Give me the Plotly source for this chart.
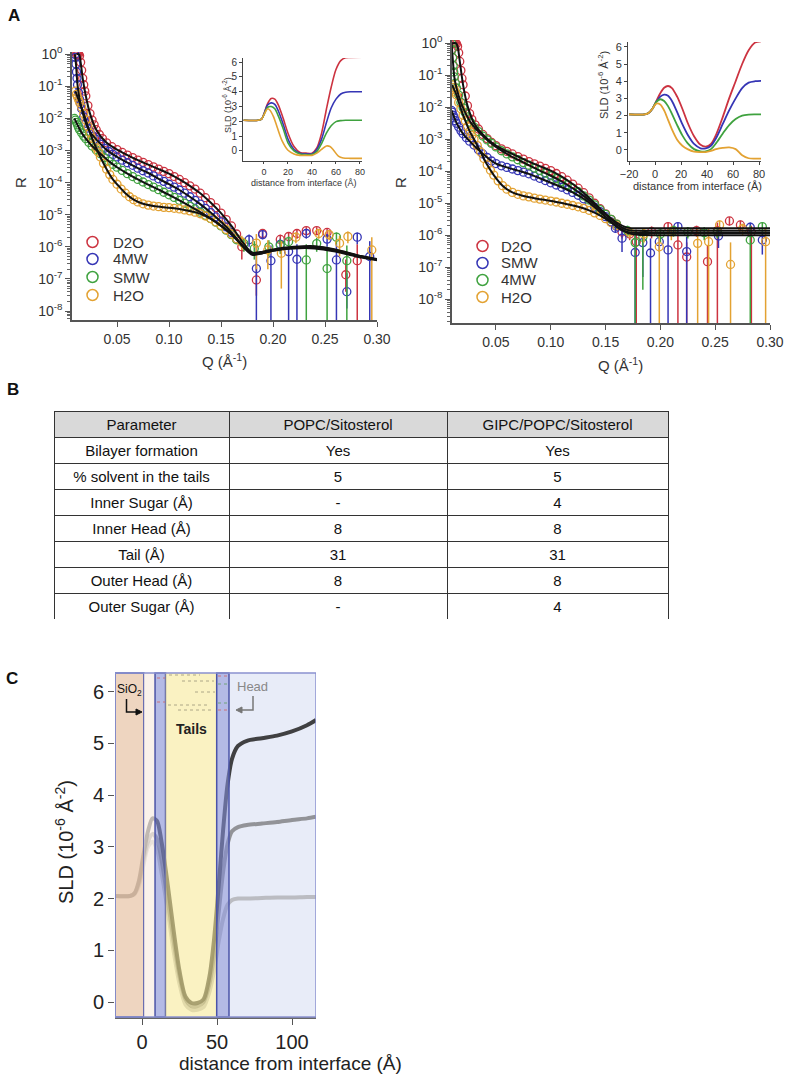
import plotly.graph_objects as go

W, H = 788, 1079
def px(x): return x / W
def py(y): return 1 - y / H

FONT = "Liberation Sans, Arial, sans-serif"

# ---------------- Panel A (left): POPC/Sitosterol, log10(R) ----------------
L_names = ["D2O", "4MW", "SMW", "H2O"]
L_colors = ["#cc3340", "#3535b5", "#3fa23f", "#e3a232"]

L_q_d2o = [0.011,0.012,0.013,0.014,0.015,0.016,0.017,0.018,0.019,0.020,0.022,0.024,0.026,0.028,0.030,0.033,0.036,0.040,0.045,0.050,0.055,0.060,0.065,0.070,0.075,0.080,0.085,0.090,0.095,0.100,0.105,0.110,0.115,0.120,0.125,0.130,0.135,0.140,0.145,0.150,0.155,0.160,0.165]
L_lr_d2o = [0.0,0.0,0.0,-0.05,-0.25,-0.5,-0.75,-0.95,-1.15,-1.3,-1.6,-1.85,-2.05,-2.2,-2.35,-2.5,-2.63,-2.76,-2.88,-2.97,-3.06,-3.14,-3.22,-3.3,-3.37,-3.44,-3.51,-3.58,-3.65,-3.72,-3.81,-3.9,-4.0,-4.1,-4.2,-4.33,-4.47,-4.62,-4.78,-4.95,-5.15,-5.35,-5.6]
L_q_4mw = [0.0095,0.010,0.0105,0.011,0.0115,0.012,0.013,0.014,0.015,0.016,0.018,0.020,0.022,0.024,0.027,0.030,0.034,0.038,0.042,0.046,0.050,0.055,0.060,0.065,0.070,0.075,0.080,0.085,0.090,0.095,0.100,0.105,0.110,0.115,0.120,0.125,0.130,0.135,0.140,0.145,0.150,0.155,0.160,0.165]
L_lr_4mw = [0.0,-0.1,-0.3,-0.55,-0.75,-0.95,-1.2,-1.4,-1.55,-1.7,-1.95,-2.15,-2.3,-2.42,-2.55,-2.65,-2.8,-2.93,-3.03,-3.12,-3.2,-3.3,-3.38,-3.46,-3.55,-3.63,-3.7,-3.79,-3.88,-3.96,-4.05,-4.14,-4.23,-4.33,-4.44,-4.55,-4.67,-4.8,-4.93,-5.07,-5.22,-5.38,-5.55,-5.75]
L_q_smw = [0.009,0.010,0.011,0.012,0.013,0.014,0.016,0.018,0.020,0.023,0.026,0.030,0.034,0.038,0.042,0.046,0.050,0.055,0.060,0.065,0.070,0.075,0.080,0.085,0.090,0.095,0.100,0.105,0.110,0.115,0.120,0.125,0.130,0.135,0.140,0.145,0.150,0.155,0.160,0.165]
L_lr_smw = [-2.0,-2.05,-2.12,-2.2,-2.28,-2.35,-2.45,-2.55,-2.63,-2.75,-2.86,-2.98,-3.1,-3.22,-3.33,-3.43,-3.52,-3.62,-3.72,-3.81,-3.9,-3.98,-4.06,-4.14,-4.22,-4.3,-4.38,-4.46,-4.55,-4.64,-4.73,-4.82,-4.92,-5.02,-5.12,-5.23,-5.35,-5.48,-5.62,-5.78]
L_q_h2o = [0.010,0.011,0.012,0.013,0.014,0.016,0.018,0.020,0.022,0.024,0.026,0.028,0.030,0.032,0.034,0.037,0.040,0.043,0.046,0.050,0.054,0.058,0.062,0.066,0.070,0.075,0.080,0.085,0.090,0.095,0.100,0.105,0.110,0.115,0.120,0.125,0.130,0.135,0.140,0.145,0.150,0.155,0.160,0.165]
L_lr_h2o = [-1.15,-1.25,-1.33,-1.42,-1.5,-1.65,-1.85,-2.05,-2.25,-2.45,-2.62,-2.78,-2.92,-3.05,-3.2,-3.4,-3.58,-3.75,-3.9,-4.05,-4.2,-4.33,-4.44,-4.53,-4.6,-4.66,-4.7,-4.73,-4.75,-4.77,-4.78,-4.8,-4.82,-4.85,-4.88,-4.92,-4.97,-5.04,-5.12,-5.22,-5.33,-5.46,-5.6,-5.75]

# sparse high-Q points (R values) with lower/upper error bounds
L_sq_d2o = [0.170,0.184,0.190,0.207,0.215,0.223,0.232,0.242,0.252,0.270,0.281]
L_sr_d2o = [1.0e-6,9.3e-8,2.6e-6,1.7e-6,2.1e-6,2.6e-6,3.2e-6,3.2e-6,2.8e-6,1.35e-7,3.7e-7]
L_lo_d2o = [4e-7,3e-8,1.8e-6,1.1e-6,1.4e-6,1.8e-6,2.3e-6,2.3e-6,1.9e-6,4e-8,1e-9]
L_hi_d2o = [2e-6,3e-7,3.5e-6,2.4e-6,2.9e-6,3.4e-6,4.1e-6,4.1e-6,3.7e-6,4e-7,1.2e-6]
L_sq_4mw = [0.177,0.184,0.190,0.198,0.207,0.215,0.223,0.232,0.252,0.261,0.271,0.281,0.293]
L_sr_4mw = [1.66e-6,2.1e-7,2.4e-6,3.7e-7,1.2e-6,7.1e-7,4.1e-7,2.6e-6,1.74e-6,3.9e-7,4e-8,2.0e-6,5.0e-7]
L_lo_4mw = [1e-6,1e-9,1.7e-6,1e-9,7e-7,1e-9,1e-9,1.8e-6,1e-6,1e-9,1.2e-8,1.2e-6,1e-9]
L_hi_4mw = [2.4e-6,1.2e-6,3.2e-6,1.1e-6,1.8e-6,1.6e-6,1.2e-6,3.4e-6,2.5e-6,1.2e-6,1.5e-7,2.8e-6,1.5e-6]
L_sq_smw = [0.172,0.182,0.196,0.207,0.215,0.232,0.242,0.252,0.261,0.271]
L_sr_smw = [1.26e-6,8.9e-7,1.0e-6,1.12e-6,1.45e-6,3.9e-7,1.26e-6,2.1e-7,2.0e-6,3.7e-7]
L_lo_smw = [7e-7,4e-7,5e-7,6e-7,9e-7,1e-9,7e-7,1e-9,1.2e-6,1e-9]
L_hi_smw = [1.9e-6,1.5e-6,1.6e-6,1.7e-6,2.1e-6,1.2e-6,1.9e-6,1e-6,2.8e-6,1.1e-6]
L_sq_h2o = [0.170,0.184,0.195,0.208,0.222,0.244,0.254,0.264,0.272,0.295]
L_sr_h2o = [1.4e-6,1.3e-6,8e-7,6.3e-7,2.0e-6,2.6e-6,2.4e-6,1.3e-6,2.1e-6,8e-7]
L_lo_h2o = [8e-7,2e-7,2e-7,5e-8,1.3e-6,1.8e-6,1.6e-6,5e-7,1.3e-6,1e-9]
L_hi_h2o = [2.2e-6,2.5e-6,1.6e-6,1.5e-6,2.8e-6,3.4e-6,3.2e-6,2.2e-6,3e-6,2e-6]

# fits, log10(R)
L_fq_d2o = [0.011,0.0135,0.015,0.017,0.020,0.024,0.030,0.040,0.050,0.060,0.070,0.080,0.090,0.100,0.110,0.120,0.130,0.140,0.150,0.160,0.170,0.180,0.190,0.200,0.220,0.240,0.260,0.280,0.300]
L_fl_d2o = [0,0,-0.25,-0.75,-1.3,-1.85,-2.35,-2.76,-2.97,-3.14,-3.3,-3.44,-3.58,-3.72,-3.9,-4.1,-4.33,-4.62,-4.95,-5.35,-5.82,-6.18,-6.15,-6.08,-6.0,-5.98,-6.08,-6.25,-6.4]
L_fq_4mw = [0.0095,0.0105,0.012,0.014,0.016,0.020,0.024,0.030,0.040,0.050,0.060,0.070,0.080,0.090,0.100,0.110,0.120,0.130,0.140,0.150,0.160,0.170,0.180,0.190,0.200,0.220,0.240,0.260,0.280,0.300]
L_fl_4mw = [0,-0.3,-0.95,-1.4,-1.7,-2.15,-2.42,-2.65,-2.98,-3.2,-3.38,-3.55,-3.7,-3.88,-4.05,-4.23,-4.44,-4.67,-4.93,-5.22,-5.55,-5.95,-6.25,-6.2,-6.12,-6.05,-6.05,-6.15,-6.3,-6.42]
L_fq_smw = [0.009,0.012,0.016,0.020,0.026,0.034,0.042,0.050,0.060,0.070,0.080,0.090,0.100,0.110,0.120,0.130,0.140,0.150,0.160,0.170,0.180,0.190,0.200,0.220,0.240,0.260,0.280,0.300]
L_fl_smw = [-2.0,-2.2,-2.45,-2.63,-2.86,-3.1,-3.33,-3.52,-3.72,-3.9,-4.06,-4.22,-4.38,-4.55,-4.73,-4.92,-5.12,-5.35,-5.62,-5.95,-6.22,-6.18,-6.1,-6.03,-6.03,-6.12,-6.28,-6.4]
L_fq_h2o = [0.010,0.012,0.014,0.018,0.022,0.026,0.030,0.034,0.040,0.046,0.050,0.058,0.066,0.075,0.085,0.095,0.105,0.115,0.125,0.135,0.145,0.155,0.165,0.175,0.185,0.200,0.220,0.240,0.260,0.280,0.300]
L_fl_h2o = [-1.15,-1.33,-1.5,-1.85,-2.25,-2.62,-2.92,-3.2,-3.58,-3.9,-4.05,-4.33,-4.53,-4.66,-4.73,-4.77,-4.8,-4.85,-4.92,-5.04,-5.22,-5.46,-5.75,-6.1,-6.22,-6.12,-6.02,-6.0,-6.1,-6.26,-6.38]

# ---------------- Panel A (right): GIPC/POPC/Sitosterol ----------------
R_names = ["D2O", "SMW", "4MW", "H2O"]
R_colors = ["#cc3340", "#3535b5", "#3fa23f", "#e3a232"]

R_q_d2o = [0.010,0.011,0.012,0.013,0.014,0.015,0.016,0.017,0.018,0.019,0.020,0.022,0.024,0.026,0.028,0.031,0.034,0.038,0.042,0.046,0.050,0.055,0.060,0.065,0.070,0.075,0.080,0.085,0.090,0.095,0.100,0.105,0.110,0.115,0.120,0.125,0.130,0.135,0.140,0.145,0.150,0.155,0.160]
R_lr_d2o = [0.0,0.0,0.0,0.0,-0.02,-0.1,-0.3,-0.57,-0.85,-1.1,-1.3,-1.65,-1.95,-2.2,-2.38,-2.55,-2.68,-2.85,-2.98,-3.1,-3.2,-3.3,-3.38,-3.46,-3.54,-3.62,-3.7,-3.77,-3.84,-3.91,-3.98,-4.07,-4.17,-4.28,-4.4,-4.53,-4.67,-4.83,-5.0,-5.17,-5.33,-5.5,-5.65]
R_q_smw = [0.0095,0.010,0.011,0.012,0.013,0.014,0.016,0.018,0.020,0.023,0.026,0.030,0.034,0.038,0.042,0.046,0.050,0.055,0.060,0.065,0.070,0.075,0.080,0.085,0.090,0.095,0.100,0.105,0.110,0.115,0.120,0.125,0.130,0.135,0.140,0.145,0.150,0.155,0.160]
R_lr_smw = [-2.1,-2.15,-2.25,-2.33,-2.42,-2.5,-2.62,-2.73,-2.83,-2.95,-3.06,-3.18,-3.33,-3.46,-3.57,-3.68,-3.76,-3.83,-3.88,-3.93,-3.98,-4.03,-4.08,-4.15,-4.22,-4.29,-4.36,-4.43,-4.5,-4.58,-4.66,-4.75,-4.86,-4.98,-5.12,-5.26,-5.42,-5.58,-5.72]
R_q_4mw = [0.0095,0.010,0.0105,0.011,0.0115,0.012,0.013,0.014,0.016,0.018,0.020,0.022,0.024,0.027,0.030,0.034,0.038,0.042,0.046,0.050,0.055,0.060,0.065,0.070,0.075,0.080,0.085,0.090,0.095,0.100,0.105,0.110,0.115,0.120,0.125,0.130,0.135,0.140,0.145,0.150,0.155,0.160]
R_lr_4mw = [0.0,-0.2,-0.45,-0.7,-0.9,-1.05,-1.25,-1.4,-1.62,-1.85,-2.02,-2.17,-2.3,-2.48,-2.62,-2.76,-2.9,-3.02,-3.13,-3.24,-3.36,-3.46,-3.55,-3.64,-3.73,-3.81,-3.9,-3.98,-4.06,-4.14,-4.23,-4.32,-4.42,-4.53,-4.64,-4.77,-4.9,-5.05,-5.2,-5.35,-5.5,-5.65]
R_q_h2o = [0.010,0.011,0.012,0.013,0.014,0.016,0.018,0.020,0.022,0.024,0.026,0.028,0.030,0.033,0.036,0.039,0.042,0.045,0.048,0.052,0.056,0.060,0.065,0.070,0.075,0.080,0.085,0.090,0.095,0.100,0.105,0.110,0.115,0.120,0.125,0.130,0.135,0.140,0.145,0.150,0.155,0.160]
R_lr_h2o = [-1.3,-1.38,-1.45,-1.53,-1.62,-1.85,-2.05,-2.25,-2.42,-2.6,-2.75,-2.88,-3.0,-3.2,-3.4,-3.6,-3.8,-3.97,-4.12,-4.3,-4.45,-4.56,-4.66,-4.72,-4.77,-4.8,-4.84,-4.87,-4.9,-4.93,-4.96,-5.0,-5.03,-5.07,-5.11,-5.16,-5.22,-5.3,-5.38,-5.48,-5.6,-5.7]

R_sq_d2o = [0.165,0.172,0.178,0.192,0.207,0.216,0.224,0.233,0.243,0.252,0.263,0.273,0.283]
R_sr_d2o = [1.26e-6,1.1e-6,6.3e-7,1.3e-6,1.86e-6,5e-7,2.1e-7,1.4e-6,1.5e-7,1.4e-6,2.8e-6,2.1e-6,1.26e-6]
R_lo_d2o = [8e-7,7e-7,1e-9,8e-7,1.3e-6,1e-9,1e-9,9e-7,1e-9,1e-9,2e-6,1.4e-6,1e-9]
R_hi_d2o = [1.8e-6,1.6e-6,1.5e-6,1.9e-6,2.5e-6,1.3e-6,6e-7,2e-6,5e-7,2.5e-6,3.7e-6,2.9e-6,2e-6]
R_sq_smw = [0.159,0.165,0.177,0.184,0.191,0.199,0.207,0.216,0.224,0.253,0.282,0.293]
R_sr_smw = [1.66e-6,8.1e-7,2.9e-7,5.9e-7,2.8e-7,6.3e-7,3.5e-7,1.86e-6,3.1e-7,9.5e-7,1.78e-6,7.1e-7]
R_lo_smw = [1.2e-6,3e-7,1e-9,5e-8,1e-9,3e-7,1e-9,1.3e-6,1e-9,4e-7,1.2e-6,2.5e-7]
R_hi_smw = [2.2e-6,1.5e-6,1e-6,1.3e-6,8e-7,1.1e-6,1e-6,2.5e-6,9e-7,1.6e-6,2.5e-6,1.3e-6]
R_sq_4mw = [0.170,0.177,0.184,0.200,0.212,0.225,0.240,0.252,0.282,0.293]
R_sr_4mw = [1.4e-6,5.9e-7,8.7e-7,1.1e-6,1.4e-6,1.26e-6,1.2e-6,1.26e-6,7.1e-7,1.86e-6]
R_lo_4mw = [9e-7,1e-9,2e-8,6e-7,9e-7,8e-7,7e-7,8e-7,1e-9,1.3e-6]
R_hi_4mw = [2e-6,1.5e-6,1.6e-6,1.7e-6,2e-6,1.8e-6,1.8e-6,1.8e-6,2e-6,2.5e-6]
R_sq_h2o = [0.172,0.185,0.199,0.210,0.234,0.244,0.254,0.264,0.275,0.296]
R_sr_h2o = [1.26e-6,1.1e-6,4.4e-7,1.26e-6,5.6e-7,6.3e-7,2.1e-6,1.23e-7,1.6e-6,6.3e-7]
R_lo_h2o = [8e-7,6e-7,1e-9,7e-7,1e-9,1e-9,1.4e-6,1e-9,1e-6,1e-9]
R_hi_h2o = [1.8e-6,1.7e-6,1.3e-6,1.9e-6,1.6e-6,1.6e-6,2.9e-6,6e-7,2.3e-6,1.6e-6]

R_fq_d2o = [0.010,0.0135,0.015,0.017,0.020,0.024,0.030,0.040,0.050,0.060,0.070,0.080,0.090,0.100,0.110,0.120,0.130,0.140,0.150,0.160,0.170,0.180,0.200,0.250,0.300]
R_fl_d2o = [0,0,-0.1,-0.57,-1.3,-1.95,-2.5,-2.92,-3.2,-3.38,-3.54,-3.7,-3.84,-3.98,-4.17,-4.4,-4.67,-5.0,-5.33,-5.6,-5.76,-5.78,-5.78,-5.78,-5.78]
R_fq_smw = [0.0095,0.012,0.016,0.020,0.026,0.034,0.042,0.050,0.060,0.070,0.080,0.090,0.100,0.110,0.120,0.130,0.140,0.150,0.160,0.170,0.180,0.200,0.250,0.300]
R_fl_smw = [-2.1,-2.33,-2.62,-2.83,-3.06,-3.33,-3.57,-3.76,-3.88,-3.98,-4.08,-4.22,-4.36,-4.5,-4.66,-4.86,-5.12,-5.42,-5.72,-5.9,-5.93,-5.93,-5.93,-5.93]
R_fq_4mw = [0.0095,0.0105,0.012,0.014,0.018,0.022,0.027,0.034,0.042,0.050,0.060,0.070,0.080,0.090,0.100,0.110,0.120,0.130,0.140,0.150,0.160,0.170,0.180,0.200,0.250,0.300]
R_fl_4mw = [0,-0.45,-1.05,-1.4,-1.85,-2.17,-2.48,-2.76,-3.02,-3.24,-3.46,-3.64,-3.81,-3.98,-4.14,-4.32,-4.53,-4.77,-5.05,-5.35,-5.65,-5.83,-5.86,-5.86,-5.86,-5.86]
R_fq_h2o = [0.010,0.014,0.018,0.022,0.026,0.030,0.036,0.042,0.048,0.056,0.065,0.075,0.085,0.095,0.105,0.115,0.125,0.135,0.145,0.155,0.165,0.175,0.200,0.250,0.300]
R_fl_h2o = [-1.3,-1.62,-2.05,-2.42,-2.75,-3.0,-3.4,-3.8,-4.12,-4.45,-4.66,-4.77,-4.84,-4.9,-4.96,-5.03,-5.11,-5.22,-5.38,-5.6,-5.85,-5.97,-6.0,-6.0,-6.0]

# ---------------- Insets: SLD profiles ----------------
IL_d = [-17,-5,-2,0,3,6,9,12,16,20,25,30,35,40,44,48,52,56,60,64,68,72,82]
IL_d2o = [2.07,2.07,2.15,2.5,3.2,3.55,3.5,3.1,2.2,1.2,0.3,-0.1,-0.15,-0.15,0.2,1.2,2.8,4.3,5.5,6.1,6.3,6.32,6.33]
IL_4mw = [2.07,2.07,2.15,2.5,3.1,3.25,3.15,2.7,1.8,0.8,0.1,-0.15,-0.2,-0.2,0.1,0.8,1.9,2.9,3.5,3.85,3.97,4.0,4.0]
IL_smw = [2.07,2.07,2.15,2.45,2.95,3.0,2.85,2.35,1.5,0.55,0.0,-0.2,-0.25,-0.25,-0.05,0.5,1.2,1.7,1.98,2.05,2.07,2.07,2.07]
IL_h2o_d = [-17,-5,-2,0,3,5,8,11,15,20,25,30,35,40,44,48,52,55,58,62,66,72,82]
IL_h2o = [2.07,2.07,2.15,2.45,2.85,2.75,2.3,1.6,0.7,0.05,-0.2,-0.3,-0.3,-0.3,-0.15,0.1,0.33,0.3,0.05,-0.35,-0.48,-0.5,-0.5]

IR_d = [-20,-8,-5,-2,1,4,7,10,13,17,21,25,30,35,39,43,47,52,57,62,67,72,77,82]
IR_d2o = [2.07,2.07,2.15,2.4,2.85,3.3,3.62,3.72,3.6,3.1,2.4,1.6,0.8,0.3,0.2,0.35,0.9,1.9,3.0,4.0,5.0,5.8,6.25,6.32]
IR_smw = [2.07,2.07,2.15,2.4,2.8,3.1,3.22,3.15,2.85,2.2,1.5,0.9,0.35,0.1,0.1,0.25,0.7,1.5,2.3,3.0,3.6,3.92,4.0,4.02]
IR_4mw = [2.07,2.07,2.15,2.4,2.8,2.95,2.85,2.55,2.1,1.45,0.85,0.4,0.05,-0.08,-0.08,0.05,0.4,0.95,1.45,1.8,2.0,2.06,2.07,2.07]
IR_h2o = [2.07,2.07,2.15,2.4,2.7,2.65,2.3,1.75,1.2,0.6,0.25,0.05,-0.1,-0.12,-0.12,-0.05,0.05,0.12,0.15,0.05,-0.3,-0.48,-0.5,-0.5]

# ---------------- Panel B: table ----------------
tbl_header = ["Parameter", "POPC/Sitosterol", "GIPC/POPC/Sitosterol"]
tbl_param = ["Bilayer formation", "% solvent in the tails", "Inner Sugar (Å)", "Inner Head (Å)",
             "Tail (Å)", "Outer Head (Å)", "Outer Sugar (Å)"]
tbl_popc = ["Yes", "5", "-", "8", "31", "8", "-"]
tbl_gipc = ["Yes", "5", "4", "8", "31", "8", "4"]

# ---------------- Panel C: SLD profiles ----------------
C_d = [-18,-8,-5,-2,1,4,7,10,13,17,21,25,29,33,37,41,45,48,51,54,57,60,64,70,80,90,100,110,116]
C_dark = [2.05,2.05,2.1,2.35,2.85,3.3,3.55,3.5,3.1,2.3,1.4,0.6,0.1,-0.02,-0.02,0.05,0.5,1.2,2.2,3.3,4.2,4.7,4.95,5.05,5.1,5.15,5.23,5.35,5.45]
C_mid = [2.05,2.05,2.1,2.3,2.75,3.1,3.25,3.15,2.75,2.0,1.2,0.5,0.05,-0.08,-0.08,0.0,0.35,0.9,1.7,2.5,3.05,3.3,3.38,3.42,3.45,3.48,3.52,3.55,3.58]
C_light = [2.05,2.05,2.08,2.25,2.65,3.0,3.1,2.95,2.5,1.8,1.0,0.35,-0.05,-0.15,-0.15,-0.1,0.2,0.6,1.15,1.6,1.88,1.97,2.0,2.0,2.01,2.02,2.02,2.03,2.03]
C_region_x0 = [-18, 1.2, 8.7, 15.7, 49.8, 58.0]
C_region_x1 = [1.2, 8.7, 15.7, 49.8, 58.0, 116]
C_region_fill = ["rgba(234,204,178,0.82)", "rgba(248,236,226,0.7)", "rgba(130,140,212,0.6)",
                 "rgba(246,232,150,0.58)", "rgba(130,140,212,0.6)", "#e8ecf8"]
C_region_line = ["#4b54a8", "rgba(0,0,0,0)", "#4b54a8", "rgba(0,0,0,0)", "#4b54a8", "rgba(0,0,0,0)"]
C_region_layer = ["above", "above", "above", "above", "above", "below"]

fig = go.Figure()

def pw(vals):
    return [10 ** v for v in vals]

def add_refl(xa, ya, names, colors, dense, sparse, fits):
    for i, name in enumerate(names):
        q, lr = dense[i]
        fig.add_trace(go.Scatter(x=q, y=pw(lr), mode="markers", name=name, showlegend=False,
                                 xaxis=xa, yaxis=ya,
                                 marker=dict(symbol="circle-open", size=8, color=colors[i], line=dict(width=1.3))))
    for i, name in enumerate(names):
        sq, sr, lo, hi = sparse[i]
        fig.add_trace(go.Scatter(x=sq, y=sr, mode="markers", name=name, showlegend=False, xaxis=xa, yaxis=ya,
                                 marker=dict(symbol="circle-open", size=8, color=colors[i], line=dict(width=1.3)),
                                 error_y=dict(type="data", symmetric=False,
                                              array=[h - r for h, r in zip(hi, sr)],
                                              arrayminus=[r - l for r, l in zip(sr, lo)],
                                              color=colors[i], thickness=1.5, width=0)))
    for i in range(len(names)):
        fq, fl = fits[i]
        fig.add_trace(go.Scatter(x=fq, y=pw(fl), mode="lines", showlegend=False, xaxis=xa, yaxis=ya,
                                 line=dict(color="#111111", width=2, shape="spline", smoothing=0.8)))

add_refl("x", "y", L_names, L_colors,
         [(L_q_d2o, L_lr_d2o), (L_q_4mw, L_lr_4mw), (L_q_smw, L_lr_smw), (L_q_h2o, L_lr_h2o)],
         [(L_sq_d2o, L_sr_d2o, L_lo_d2o, L_hi_d2o), (L_sq_4mw, L_sr_4mw, L_lo_4mw, L_hi_4mw),
          (L_sq_smw, L_sr_smw, L_lo_smw, L_hi_smw), (L_sq_h2o, L_sr_h2o, L_lo_h2o, L_hi_h2o)],
         [(L_fq_d2o, L_fl_d2o), (L_fq_4mw, L_fl_4mw), (L_fq_smw, L_fl_smw), (L_fq_h2o, L_fl_h2o)])
add_refl("x2", "y2", R_names, R_colors,
         [(R_q_d2o, R_lr_d2o), (R_q_smw, R_lr_smw), (R_q_4mw, R_lr_4mw), (R_q_h2o, R_lr_h2o)],
         [(R_sq_d2o, R_sr_d2o, R_lo_d2o, R_hi_d2o), (R_sq_smw, R_sr_smw, R_lo_smw, R_hi_smw),
          (R_sq_4mw, R_sr_4mw, R_lo_4mw, R_hi_4mw), (R_sq_h2o, R_sr_h2o, R_lo_h2o, R_hi_h2o)],
         [(R_fq_d2o, R_fl_d2o), (R_fq_smw, R_fl_smw), (R_fq_4mw, R_fl_4mw), (R_fq_h2o, R_fl_h2o)])

# insets
for d, s, c in [(IL_d, IL_d2o, L_colors[0]), (IL_d, IL_4mw, L_colors[1]), (IL_d, IL_smw, L_colors[2]), (IL_h2o_d, IL_h2o, L_colors[3])]:
    fig.add_trace(go.Scatter(x=d, y=s, mode="lines", showlegend=False, xaxis="x3", yaxis="y3",
                             line=dict(color=c, width=1.6, shape="spline", smoothing=0.8)))
for s, c in [(IR_d2o, R_colors[0]), (IR_smw, R_colors[1]), (IR_4mw, R_colors[2]), (IR_h2o, R_colors[3])]:
    fig.add_trace(go.Scatter(x=IR_d, y=s, mode="lines", showlegend=False, xaxis="x4", yaxis="y4",
                             line=dict(color=c, width=1.8, shape="spline", smoothing=0.8)))

# panel C curves
for s, c in [(C_light, "rgba(150,150,150,0.55)"), (C_mid, "rgba(100,100,100,0.65)"), (C_dark, "rgba(40,40,40,0.88)")]:
    fig.add_trace(go.Scatter(x=C_d, y=s, mode="lines", showlegend=False, xaxis="x5", yaxis="y5",
                             line=dict(color=c, width=4, shape="spline", smoothing=0.8)))

# table
fig.add_trace(go.Table(
    domain=dict(x=[px(54), px(668)], y=[py(619), py(411)]),
    columnwidth=[175, 218, 221],
    header=dict(values=tbl_header, fill_color="#d9d9d9", line=dict(color="#333333", width=1),
                align="center", height=26, font=dict(family=FONT, size=15, color="#111")),
    cells=dict(values=[tbl_param, tbl_popc, tbl_gipc], fill_color="white", line=dict(color="#333333", width=1),
               align="center", height=26, font=dict(family=FONT, size=15, color="#111")),
))

tickfont = dict(family=FONT, size=14, color="#333")
ytv = [10.0 ** (-k) for k in range(0, 9)]
ytt = ["10<sup>%d</sup>" % (-k) if k else "10<sup>0</sup>" for k in range(0, 9)]
minor_vals = [m * 10.0 ** n for n in range(-10, 1) for m in range(2, 10)]
xtv = [0.05, 0.10, 0.15, 0.20, 0.25, 0.30]
xtt = ["0.05", "0.10", "0.15", "0.20", "0.25", "0.30"]

def main_y(dom, rng, anchor):
    return dict(domain=dom, type="log", range=rng, tickvals=ytv, ticktext=ytt, ticks="outside", ticklen=5,
                tickcolor="#555", showline=True, linecolor="#555", linewidth=1.5, showgrid=False, zeroline=False,
                tickfont=tickfont, automargin=False, anchor=anchor,
                minor=dict(tickvals=minor_vals, ticks="outside", ticklen=3, tickcolor="#666"))

def main_x(dom, rng, anchor):
    return dict(domain=dom, range=rng, tickvals=xtv, ticktext=xtt, ticks="outside", ticklen=5, tickcolor="#555",
                showline=True, linecolor="#555", linewidth=1.5, showgrid=False, zeroline=False, tickfont=tickfont,
                anchor=anchor, automargin=False)

def inset_ax(dom, rng, tv, size, anchor, tl=3):
    return dict(domain=dom, range=rng, tickvals=tv, ticks="outside", ticklen=tl, tickcolor="#444",
                showline=True, linecolor="#444", linewidth=1, showgrid=False, zeroline=False,
                tickfont=dict(family=FONT, size=size, color="#333"), anchor=anchor, automargin=False)

fig.update_layout(
    width=W, height=H, margin=dict(l=0, r=0, t=0, b=0, pad=0, autoexpand=False),
    paper_bgcolor="white", plot_bgcolor="rgba(0,0,0,0)", showlegend=False,
    xaxis=main_x([px(72), px(377)], [0.0067, 0.300], "y"),
    yaxis=main_y([py(320), py(52)], [-8.28, 0.07], "x"),
    xaxis2=main_x([px(452), px(770)], [0.0099, 0.300], "y2"),
    yaxis2=main_y([py(323), py(40)], [-8.74, 0.10], "x2"),
    xaxis3=inset_ax([px(243), px(362)], [-17.5, 81.7], [0, 20, 40, 60, 80], 9, "y3", 2),
    yaxis3=inset_ax([py(161), py(58)], [-0.68, 6.28], [0, 1, 2, 3, 4, 5, 6], 10, "x3"),
    xaxis4=inset_ax([px(628), px(761)], [-20.8, 81.5], [-20, 0, 20, 40, 60, 80], 11, "y4"),
    yaxis4=inset_ax([py(161), py(42)], [-0.64, 6.28], [0, 1, 2, 3, 4, 5, 6], 11, "x4"),
    xaxis5=dict(domain=[px(115), px(316)], range=[-18, 116], tickvals=[0, 50, 100], ticks="outside", ticklen=6,
                tickcolor="#555", showline=True, linecolor="#666", linewidth=1.5, showgrid=False, zeroline=False,
                tickfont=dict(family=FONT, size=20, color="#222"), anchor="y5", automargin=False),
    yaxis5=dict(domain=[py(1017), py(673)], range=[-0.29, 6.36], tickvals=[0, 1, 2, 3, 4, 5, 6], ticks="outside",
                ticklen=6, tickcolor="#555", showline=False, showgrid=False, zeroline=False,
                tickfont=dict(family=FONT, size=20, color="#222"), anchor="x5", automargin=False),
)

def P(x, y):
    return "%f,%f" % (px(x), py(y))

shapes = []
for x0, x1, fc, lc, lay in zip(C_region_x0, C_region_x1, C_region_fill, C_region_line, C_region_layer):
    shapes.append(dict(type="rect", xref="x5", yref="y5 domain", x0=x0, x1=x1, y0=0, y1=1, fillcolor=fc,
                       line=dict(color=lc, width=1.5), layer=lay))
shapes.append(dict(type="rect", xref="x5", yref="y5 domain", x0=-18, x1=116, y0=0, y1=1,
                   fillcolor="rgba(0,0,0,0)", line=dict(color="#8a91cf", width=1.5), layer="above"))
# small lipid cartoon strokes at top of panel C (tails region + head bands)
for (xa, xb, yy, col) in [(169, 200, 675, "#9a9478"), (182, 214, 681, "#9a9478"), (195, 215, 692, "#9a9478"),
                          (168, 210, 705, "#9a9478"), (178, 214, 710, "#9a9478"),
                          (157, 165, 678, "#d06060"), (157, 165, 702, "#d06060"), (218, 227, 676, "#d06060"),
                          (218, 227, 684, "#60a060"), (218, 227, 703, "#60a060"), (218, 227, 710, "#d06060")]:
    shapes.append(dict(type="line", xref="paper", yref="paper", x0=px(xa), x1=px(xb), y0=py(yy), y1=py(yy),
                       line=dict(color=col, width=0.8, dash="dot"), layer="above"))
# arrows in panel C
shapes.append(dict(type="path", xref="paper", yref="paper",
                   path="M %s L %s L %s" % (P(126.5, 699), P(126.5, 712), P(137, 712)),
                   line=dict(color="#111", width=1.5)))
shapes.append(dict(type="path", xref="paper", yref="paper",
                   path="M %s L %s L %s Z" % (P(136, 709), P(142, 712), P(136, 715)),
                   fillcolor="#111", line=dict(color="#111", width=1)))
shapes.append(dict(type="path", xref="paper", yref="paper",
                   path="M %s L %s L %s" % (P(253, 696), P(253, 710), P(241, 710)),
                   line=dict(color="#777", width=1.5)))
shapes.append(dict(type="path", xref="paper", yref="paper",
                   path="M %s L %s L %s Z" % (P(242, 707), P(236, 710), P(242, 713)),
                   fillcolor="#777", line=dict(color="#777", width=1)))

# legend symbols (open circles) for panel A
L_leg_y = [242, 259, 277, 295]
R_leg_y = [246, 263, 280, 297]
for yy, c in zip(L_leg_y, L_colors):
    shapes.append(dict(type="circle", xref="paper", yref="paper", x0=px(87), x1=px(98), y0=py(yy + 5.5), y1=py(yy - 5.5),
                       line=dict(color=c, width=1.5), fillcolor="rgba(0,0,0,0)"))
for yy, c in zip(R_leg_y, R_colors):
    shapes.append(dict(type="circle", xref="paper", yref="paper", x0=px(477), x1=px(488), y0=py(yy + 5.5), y1=py(yy - 5.5),
                       line=dict(color=c, width=1.5), fillcolor="rgba(0,0,0,0)"))
fig.update_layout(shapes=shapes)

def ann(x, y, text, size, color="#222", bold=False, angle=0, xanchor="center", family=FONT):
    return dict(x=px(x), y=py(y), xref="paper", yref="paper", text=("<b>%s</b>" % text) if bold else text,
                showarrow=False, textangle=angle, xanchor=xanchor, yanchor="middle",
                font=dict(family=family, size=size, color=color))

anns = [
    ann(14, 15, "A", 17, "#111", True),
    ann(13, 389, "B", 17, "#111", True),
    ann(12, 678, "C", 17, "#111", True),
    ann(20, 183, "R", 15, "#333", angle=-90),
    ann(224, 360, "Q (Å<sup>-1</sup>)", 15, "#333"),
    ann(400, 183, "R", 15, "#333", angle=-90),
    ann(620, 365, "Q (Å<sup>-1</sup>)", 15, "#333"),
    ann(227, 105, "SLD (10<sup>-6</sup> Å<sup>-2</sup>)", 9, "#333", angle=-90),
    ann(304, 183, "distance from interface (Å)", 9, "#333"),
    ann(603, 85, "SLD (10<sup>-6</sup> Å<sup>-2</sup>)", 11, "#333", angle=-90),
    ann(697, 186, "distance from interface (Å)", 11, "#333"),
    ann(64, 842, "SLD (10<sup>-6</sup> Å<sup>-2</sup>)", 20, "#222", angle=-90),
    ann(290, 1063, "distance from interface (Å)", 19, "#222"),
    ann(129, 690, "SiO<sub>2</sub>", 12, "#111"),
    ann(191, 729, "Tails", 14, "#222", True),
    ann(252, 686, "Head", 13, "#888"),
]
for yy, name in zip(L_leg_y, L_names):
    anns.append(ann(111, yy, name, 15, "#333", xanchor="left"))
for yy, name in zip(R_leg_y, R_names):
    anns.append(ann(499, yy, name, 15, "#333", xanchor="left"))
fig.update_layout(annotations=anns)

fig.write_html("out.html", config={"displayModeBar": False},
               post_script="document.body.style.margin='0';document.body.style.overflow='hidden';")
